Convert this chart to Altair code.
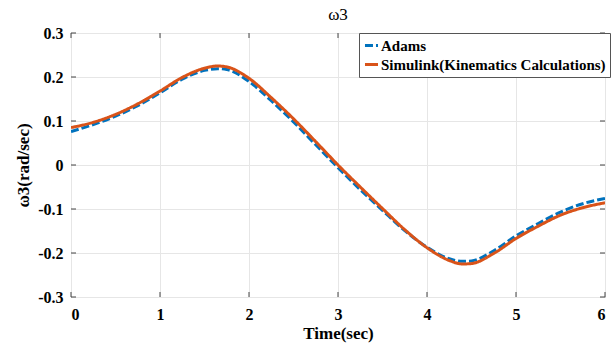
import altair as alt
import pandas as pd

t = [0, 0.25, 0.5, 0.75, 1, 1.25, 1.5, 1.65, 1.75, 2, 2.25, 2.5, 2.75, 3,
     3.25, 3.5, 3.75, 4, 4.25, 4.4, 4.5, 4.75, 5, 5.25, 5.5, 5.75, 6]
simulink = [0.085, 0.097, 0.115, 0.139, 0.168, 0.199, 0.220, 0.225, 0.223, 0.197,
            0.153, 0.105, 0.053, 0.0, -0.050, -0.099, -0.147, -0.188, -0.217,
            -0.225, -0.224, -0.201, -0.167, -0.139, -0.114, -0.097, -0.086]
adams = [0.076, 0.092, 0.111, 0.135, 0.164, 0.195, 0.215, 0.219, 0.217, 0.190,
         0.146, 0.098, 0.046, -0.006, -0.056, -0.103, -0.149, -0.187, -0.213,
         -0.219, -0.218, -0.195, -0.161, -0.133, -0.107, -0.088, -0.076]
series_names = ["Adams", "Simulink(Kinematics Calculations)"]
x_ticks = [0, 1, 2, 3, 4, 5, 6]
y_ticks = [-0.3, -0.2, -0.1, 0, 0.1, 0.2, 0.3]

rows = []
for i, tv in enumerate(t):
    rows.append({"t": tv, "w": adams[i], "s": series_names[0]})
    rows.append({"t": tv, "w": simulink[i], "s": series_names[1]})
df = pd.DataFrame(rows)

FONT = "Liberation Serif"

xs = alt.Scale(domain=[0, 6], nice=False)
ys = alt.Scale(domain=[-0.3, 0.3], nice=False)

lines = alt.Chart(df).mark_line(strokeWidth=3, interpolate="monotone", clip=True).encode(
    x=alt.X("t:Q", scale=xs, title="Time(sec)",
            axis=alt.Axis(values=x_ticks, format="d")),
    y=alt.Y("w:Q", scale=ys, title="ω3(rad/sec)",
            axis=alt.Axis(values=y_ticks,
                          labelExpr="'' + datum.value")),
    color=alt.Color("s:N", title=None,
                    scale=alt.Scale(domain=series_names, range=["#0072BD", "#D95319"]),
                    legend=alt.Legend(orient="none", legendX=288, legendY=0,
                                      symbolType="stroke", symbolStrokeWidth=3,
                                      symbolSize=170, labelFont=FONT, labelFontSize=15,
                                      labelFontWeight="bold", labelColor="black",
                                      labelLimit=0,
                                      fillColor="white", strokeColor="#555",
                                      padding=4, rowPadding=2, labelOffset=1)),
    strokeDash=alt.StrokeDash("s:N", title=None,
                              scale=alt.Scale(domain=series_names, range=[[8, 3], [1, 0]]),
                              legend=alt.Legend(orient="none", legendX=288, legendY=0)),
    order=alt.Order("s:N", sort="descending"),
)

tick_df = pd.DataFrame({"xv": x_ticks})
ytick_df = pd.DataFrame({"yv": y_ticks})
xt_bottom = alt.Chart(tick_df).mark_rule(color="#444", strokeWidth=1).encode(
    x=alt.X("xv:Q", scale=xs), y=alt.value(264), y2=alt.value(259))
xt_top = alt.Chart(tick_df).mark_rule(color="#444", strokeWidth=1).encode(
    x=alt.X("xv:Q", scale=xs), y=alt.value(0), y2=alt.value(5))
yt_left = alt.Chart(ytick_df).mark_rule(color="#444", strokeWidth=1).encode(
    y=alt.Y("yv:Q", scale=ys), x=alt.value(0), x2=alt.value(5))
yt_right = alt.Chart(ytick_df).mark_rule(color="#444", strokeWidth=1).encode(
    y=alt.Y("yv:Q", scale=ys), x=alt.value(534), x2=alt.value(529))

chart = alt.layer(xt_bottom, xt_top, yt_left, yt_right, lines).resolve_scale(
    x="shared", y="shared"
).properties(
    width=534, height=264,
    title=alt.TitleParams("ω3", font=FONT, fontSize=17, fontWeight="normal",
                          offset=1, color="black"),
    padding={"left": 71, "top": 33, "right": 7, "bottom": 46},
    autosize=alt.AutoSizeParams(type="none"),
).configure_view(
    stroke="#888", strokeWidth=1
).configure_axis(
    grid=True, gridColor="#e6e6e6", gridWidth=1, domain=False, ticks=False,
    labelFont=FONT, labelFontSize=16, labelFontWeight="bold", labelColor="black",
    titleFont=FONT, titleFontSize=17, titleFontWeight="bold", titleColor="black",
).configure_axisX(
    labelPadding=9, titlePadding=3
).configure_axisY(
    labelPadding=8, titlePadding=5
)

chart.save("out.html", embed_options={"renderer": "svg", "actions": False})
